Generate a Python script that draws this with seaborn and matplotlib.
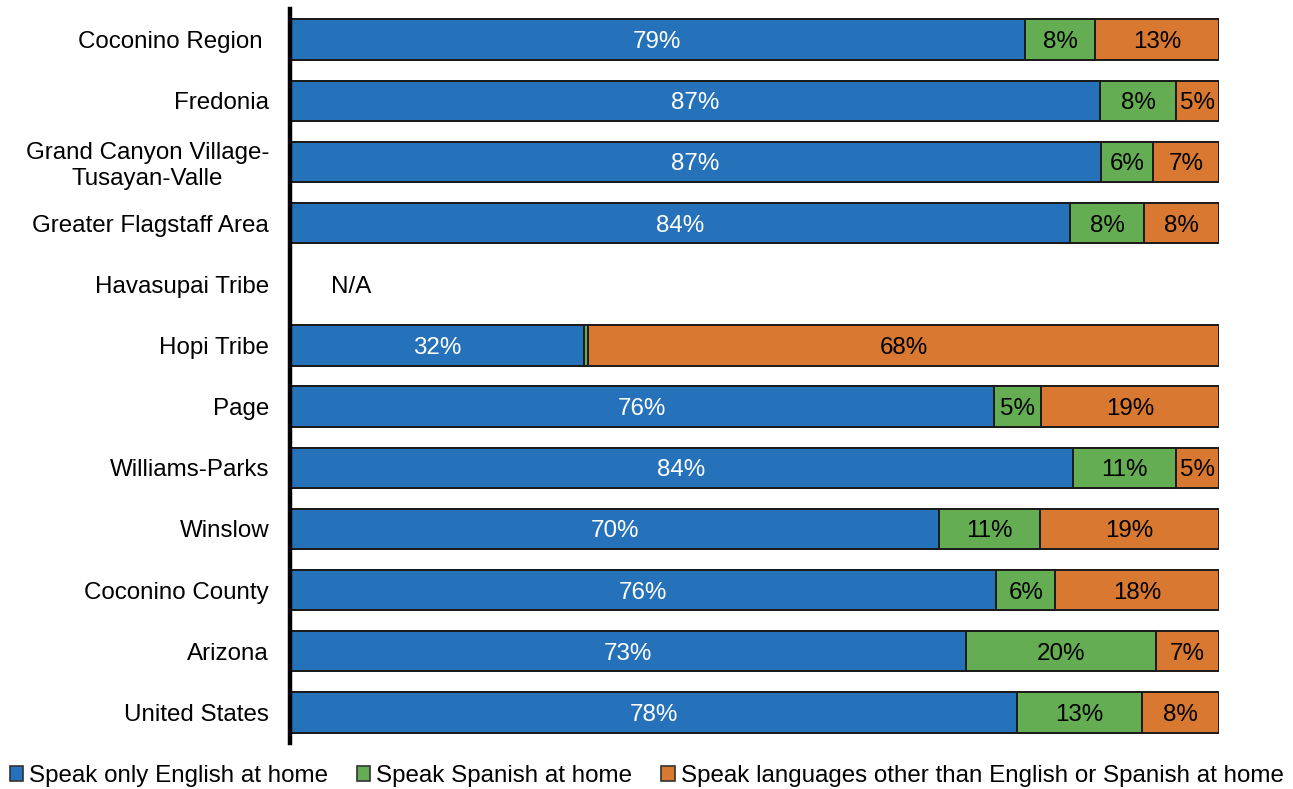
import numpy as np
import pandas as pd
import matplotlib
matplotlib.use("Agg")
import matplotlib.pyplot as plt
from matplotlib.patches import Patch
import seaborn as sns

# Share of residents (age 5+) by language spoken at home, percent
regions = [
    "Coconino Region ",
    "Fredonia",
    "Grand Canyon Village-\nTusayan-Valle",
    "Greater Flagstaff Area",
    "Havasupai Tribe",
    "Hopi Tribe",
    "Page",
    "Williams-Parks",
    "Winslow",
    "Coconino County",
    "Arizona",
    "United States",
]
english_only = [79.1, 87.2, 87.3, 84.0, np.nan, 31.6, 75.8, 84.3, 69.9, 76.0, 72.8, 78.3]
spanish = [7.6, 8.2, 5.6, 7.9, np.nan, 0.5, 5.0, 11.1, 10.8, 6.4, 20.4, 13.4]
other_lang = [13.3, 4.6, 7.1, 8.1, np.nan, 67.9, 19.2, 4.6, 19.3, 17.6, 6.8, 8.3]

series_names = [
    "Speak only English at home",
    "Speak Spanish at home",
    "Speak languages other than English or Spanish at home",
]
colors = ["#2571BA", "#65AD52", "#D97831"]
text_colors = ["white", "black", "black"]

sns.set_style("white")
plt.rcParams["font.family"] = ["Liberation Sans", "DejaVu Sans"]
plt.rcParams["text.color"] = "black"

FS = 17.4

df = pd.DataFrame({
    "region": regions,
    "english": english_only,
    "spanish": spanish,
    "other": other_lang,
})
df["cum_english"] = df["english"]
df["cum_spanish"] = df["english"] + df["spanish"]
df["cum_other"] = df["cum_spanish"] + df["other"]

fig = plt.figure(figsize=(12.93, 7.89), dpi=100)
ax = fig.add_axes([290 / 1293, 46 / 789, 929 / 1293, 734 / 789])

# Stacked bars: draw cumulative totals from longest to shortest
for col, color in zip(["cum_other", "cum_spanish", "cum_english"], colors[::-1]):
    sns.barplot(data=df, y="region", x=col, orient="h", color=color,
                width=0.66, edgecolor="#1a1a1a", linewidth=1.4,
                saturation=1, ax=ax, errorbar=None)

# Segment labels
for i, row in df.iterrows():
    if np.isnan(row["english"]):
        ax.text(4.4, i, "N/A", ha="left", va="center_baseline", fontsize=FS,
                color="black")
        continue
    left = 0.0
    for key, tc in zip(["english", "spanish", "other"], text_colors):
        v = row[key]
        if v >= 1:
            ax.text(left + v / 2, i, f"{v:.0f}%", ha="center",
                    va="center_baseline", fontsize=FS, color=tc)
        left += v

ax.set_xlim(0, 100)
ax.set_ylim(len(regions) - 0.5, -0.5)
ax.set_xlabel("")
ax.set_ylabel("")
ax.set_xticks([])
for s in ["top", "right", "bottom"]:
    ax.spines[s].set_visible(False)
ax.spines["left"].set_linewidth(3.2)
ax.spines["left"].set_color("black")
ax.tick_params(axis="y", length=0, pad=15, labelsize=FS, labelcolor="black")
for lbl in ax.get_yticklabels():
    lbl.set_multialignment("center")

handles = [Patch(facecolor=c, edgecolor="#333333", linewidth=1.2) for c in colors]
leg = fig.legend(handles, series_names, loc="center", bbox_to_anchor=(0.5, 13 / 789),
                 ncol=3, frameon=False, fontsize=FS, handlelength=0.55,
                 handleheight=0.55, handletextpad=0.25, columnspacing=1.2,
                 borderaxespad=0, borderpad=0)
for t in leg.get_texts():
    t.set_color("black")

fig.savefig("out.png", dpi=100)
